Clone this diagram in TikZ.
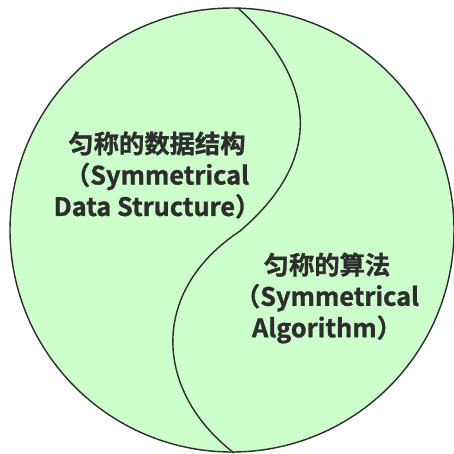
\documentclass[tikz,border=0pt]{standalone}
\usepackage{fontspec}
\setmainfont{Noto Sans CJK SC}[BoldFont={Noto Sans CJK SC Bold},BoldFeatures={FakeBold=1.2}]
\usepackage{xcolor}
\usepackage{tikz}
\usetikzlibrary{positioning}

\definecolor{ballfill}{RGB}{204,255,204}
\definecolor{ballline}{RGB}{45,45,45}

\begin{document}
\begin{tikzpicture}[
  x=0.02cm, y=-0.02cm,
  ball/.style={draw=ballline, fill=ballfill, line width=0.8pt},
  wave/.style={draw=ballline, line width=0.8pt},
  label/.style={font=\fontsize{14.4}{17.9}\selectfont\bfseries, text=ballline, align=center, inner sep=0pt}
]
  \useasboundingbox (0,0) rectangle (454,454);
  \path[ball] (232,230) circle[radius=222];

  \coordinate (top) at (238,8);
  \coordinate (mid) at (240,231);
  \coordinate (bot) at (234,453);
  \draw[wave] (top) .. controls (305,70) and (335,150) .. (mid)
                    .. controls (148,292) and (155,392) .. (bot);

  \node[label] (ds) at (157,175) {匀称的数据结构\\（Symmetrical\\Data Structure）};
  \node[label] (alg) at (327,298) {匀称的算法\\（Symmetrical\\Algorithm）};
\end{tikzpicture}
\end{document}
